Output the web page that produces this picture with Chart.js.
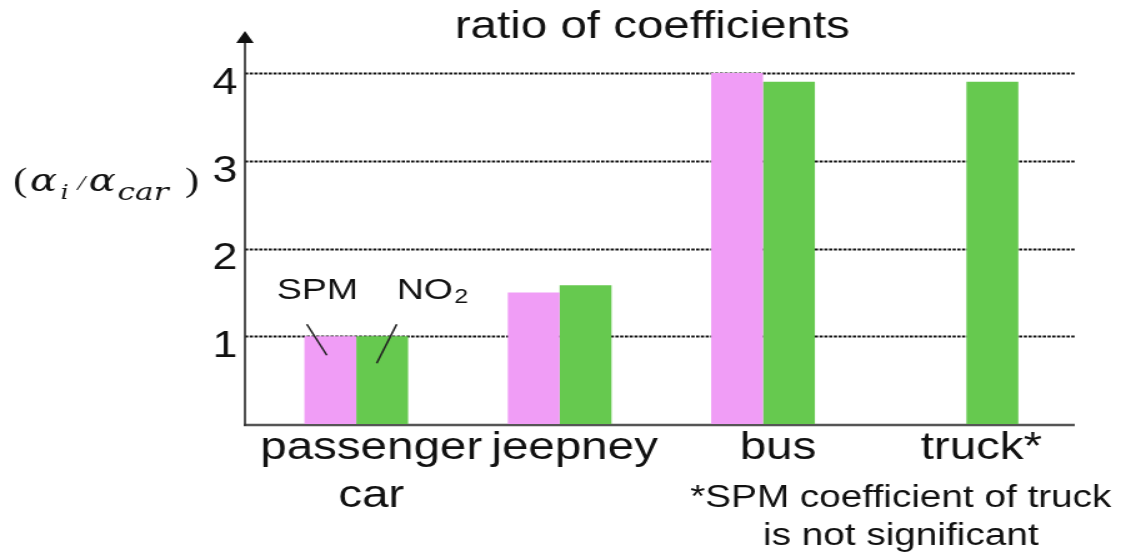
<!DOCTYPE html>
<html><head><meta charset="utf-8">
<script src="https://cdn.jsdelivr.net/npm/chart.js@4.4.1/dist/chart.umd.min.js"></script>
<style>
html,body{margin:0;padding:0;background:#fff;overflow:hidden;width:1121px;height:557px;}
#wrap{width:897px;height:557px;transform:scaleX(1.2497);transform-origin:0 0;}
canvas{display:block;}
</style></head><body>
<div id="wrap"><canvas id="c" width="897" height="557"></canvas></div>
<script>
const categories = [['passenger', 'car'], 'jeepney', 'bus', 'truck*'];
const spmValues = [1.0, 1.5, 4.0, null];
const no2Values = [1.0, 1.58, 3.9, 3.9];
const yTickValues = [0, 1, 2, 3, 4];
const seriesNames = ['SPM', 'NO2'];
const titleText = 'ratio of coefficients';
const footnoteLines = ['*SPM coefficient of truck', 'is not significant'];

const SANS = "'Liberation Sans', Arial, Helvetica, sans-serif";
const SERIF = "'DejaVu Serif', 'Liberation Serif', serif";
const SERIF2 = "'Liberation Serif', 'Times New Roman', serif";
const INK = '#111';
const PINK = '#f09df6';
const GREEN = '#66c94f';

const axesPlugin = {
  id: 'axesDeco',
  beforeDatasetsDraw(chart) {
    const { ctx, scales: { y } } = chart;
    const xL = 196, xR = 860;
    ctx.save();
    ctx.strokeStyle = '#111';
    ctx.lineWidth = 1.8;
    ctx.setLineDash([2.6, 1.2]);
    yTickValues.filter(v => v > 0).forEach(v => {
      const py = Math.round(y.getPixelForValue(v)) + 0.5;
      ctx.beginPath(); ctx.moveTo(xL, py); ctx.lineTo(xR, py); ctx.stroke();
    });
    ctx.setLineDash([]);
    const y0 = y.getPixelForValue(0);
    ctx.strokeStyle = '#555';
    ctx.lineWidth = 2.5;
    ctx.beginPath(); ctx.moveTo(xL - 1, y0 + 1); ctx.lineTo(xR, y0 + 1); ctx.stroke();
    ctx.strokeStyle = '#333';
    ctx.lineWidth = 1.7;
    ctx.beginPath(); ctx.moveTo(xL, y0 + 2); ctx.lineTo(xL, 40); ctx.stroke();
    ctx.fillStyle = '#111';
    ctx.beginPath(); ctx.moveTo(xL, 31); ctx.lineTo(xL - 7, 43); ctx.lineTo(xL + 7, 43); ctx.closePath(); ctx.fill();
    ctx.restore();
  }
};

const textPlugin = {
  id: 'textDeco',
  afterDraw(chart) {
    const ctx = chart.ctx;
    ctx.save();
    ctx.fillStyle = INK;
    // chart title
    ctx.font = `38px ${SANS}`;
    ctx.textAlign = 'center';
    ctx.textBaseline = 'alphabetic';
    ctx.fillText(titleText, 522, 38);

    ctx.textAlign = 'left';
    // y-axis title (alpha_i / alpha_car)
    const pieces = [
      ['(', `34px ${SERIF2}`, 10.4, 191],
      ['\u03B1', `italic 32px ${SERIF}`, 24, 191],
      ['i', `italic 20px ${SERIF}`, 48.6, 199],
      ['/', `italic 22px ${SERIF2}`, 62, 190],
      ['\u03B1', `italic 32px ${SERIF}`, 71, 191],
      ['car', `italic 25px ${SERIF}`, 94, 200],
      [')', `34px ${SERIF2}`, 148, 191]
    ];
    pieces.forEach(([t, f, x, yy]) => { ctx.font = f; ctx.fillText(t, x, yy); });

    // in-chart series labels with leader lines, anchored to the passenger car bars
    const pink = chart.getDatasetMeta(0).data[0];
    const green = chart.getDatasetMeta(1).data[0];
    ctx.font = `30px ${SANS}`;
    ctx.textAlign = 'center';
    ctx.fillText(seriesNames[0], pink.x - 10.4, pink.y - 37);
    ctx.textAlign = 'left';
    const noX = green.x + 11.6;
    ctx.fillText('NO', noX, green.y - 37);
    const wNO = ctx.measureText('NO').width;
    ctx.font = `20px ${SANS}`;
    ctx.fillText('2', noX + wNO + 1, green.y - 33);
    ctx.strokeStyle = '#222';
    ctx.lineWidth = 1.6;
    ctx.beginPath(); ctx.moveTo(pink.x - 18.8, pink.y - 12); ctx.lineTo(pink.x - 2.8, pink.y + 19); ctx.stroke();
    ctx.beginPath(); ctx.moveTo(green.x + 11.6, green.y - 12); ctx.lineTo(green.x - 4.4, green.y + 27); ctx.stroke();

    // footnote
    ctx.font = `31px ${SANS}`;
    ctx.textAlign = 'center';
    ctx.fillText(footnoteLines[0], 720.8, 507);
    ctx.fillText(footnoteLines[1], 720.8, 545);
    ctx.restore();
  }
};

new Chart(document.getElementById('c'), {
  type: 'bar',
  data: {
    labels: categories,
    datasets: [
      { label: seriesNames[0], data: spmValues, backgroundColor: PINK, borderWidth: 0 },
      { label: seriesNames[1], data: no2Values, backgroundColor: GREEN, borderWidth: 0 }
    ]
  },
  options: {
    responsive: false,
    animation: false,
    devicePixelRatio: 1,
    categoryPercentage: 0.51,
    barPercentage: 1.0,
    layout: { padding: { left: 158.7, right: 42.3, top: 73, bottom: 0 } },
    plugins: {
      legend: { display: false },
      tooltip: { enabled: false },
      title: { display: false }
    },
    scales: {
      x: {
        grid: { display: false, drawTicks: false },
        border: { display: false },
        ticks: {
          color: INK,
          font: { family: SANS, size: 38, lineHeight: 1.26 },
          padding: 1,
          labelOffset: 12,
          maxRotation: 0,
          autoSkip: false
        },
        afterFit: s => { s.height = 133; }
      },
      y: {
        min: 0,
        max: 4,
        grid: { display: false, drawTicks: false },
        border: { display: false },
        afterBuildTicks: s => { s.ticks = yTickValues.map(v => ({ value: v })); },
        ticks: {
          color: INK,
          font: { family: SANS, size: 36 },
          padding: 13.7,
          labelOffset: 11,
          callback: v => (v === 0 ? '' : String(v))
        },
        afterFit: s => { s.width = 45; }
      }
    }
  },
  plugins: [axesPlugin, textPlugin]
});
</script>
</body></html>
